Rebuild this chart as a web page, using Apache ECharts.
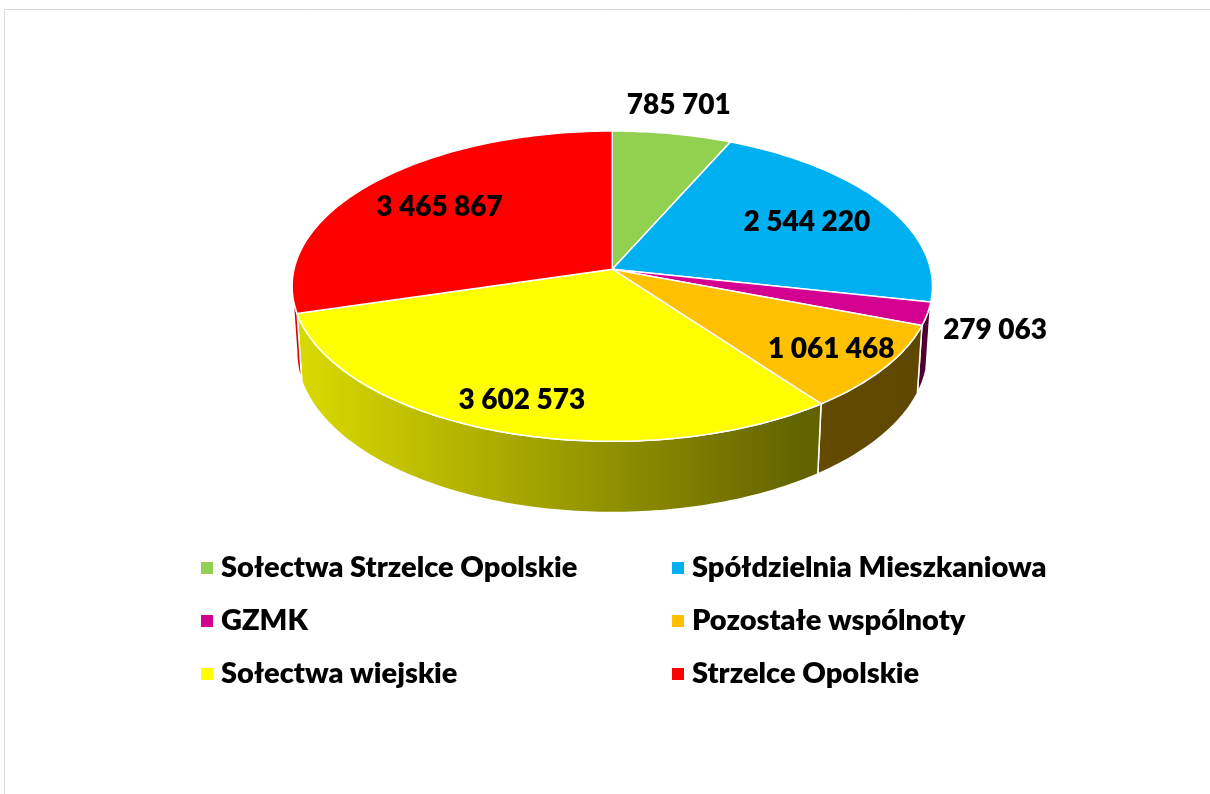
<!DOCTYPE html>
<html>
<head>
<meta charset="utf-8">
<script src="https://cdn.jsdelivr.net/npm/echarts@6/dist/echarts.min.js"></script>
<style>
  html, body { margin: 0; padding: 0; background: #fff; }
  #chart { width: 1210px; height: 794px; }
</style>
</head>
<body>
<div id="chart"></div>
<script>
// data
const categories = [
  'Sołectwa Strzelce Opolskie',
  'Spółdzielnia Mieszkaniowa',
  'GZMK',
  'Pozostałe wspólnoty',
  'Sołectwa wiejskie',
  'Strzelce Opolskie'
];
const values = [785701, 2544220, 279063, 1061468, 3602573, 3465867];

// look & layout
const colors = ['#92d050', '#00b0f0', '#d4008f', '#ffc000', '#ffff00', '#ff0000'];
const labelRadius = [1, 0.71, 1, 0.815, 0.82, 0.71]; // >= 1 : label outside
const FONT = 'Lato, "Noto Sans", sans-serif';
const WEIGHT = 800;

const total = values.reduce((a, b) => a + b, 0);
const startDeg = [];
values.reduce((acc, v, i) => { startDeg[i] = acc / total * 360; return acc + v; }, 0);

// fake 3D view
const TILT = 28.8 * Math.PI / 180;
const DIST = 8;        // camera distance, in radii
const THICK = 0.24;    // disc thickness, in radii

function fmt(v) {
  return String(v).replace(/\B(?=(\d{3})+(?!\d))/g, ' ');
}

function shade(hex, f) {
  const n = parseInt(hex.slice(1), 16);
  const r = Math.round(((n >> 16) & 255) * f);
  const g = Math.round(((n >> 8) & 255) * f);
  const b = Math.round((n & 255) * f);
  return 'rgb(' + r + ',' + g + ',' + b + ')';
}

function makeProject(api) {
  const W = api.getWidth(), H = api.getHeight();
  const cx = W * 0.506, cy = H * 0.339, R = W * 0.263;
  const proj = function (deg, r, y) {
    const t = deg * Math.PI / 180;
    const X = r * Math.sin(t), Z = -r * Math.cos(t);
    const v = Z * Math.sin(TILT) - y * Math.cos(TILT);
    const w = Z * Math.cos(TILT) + y * Math.sin(TILT);
    const s = DIST / (DIST - w);
    return [cx + R * X * s, cy + R * v * s];
  };
  proj.cx = cx; proj.cy = cy; proj.R = R;
  return proj;
}

function renderSlice(i, params, api) {
  const proj = makeProject(api);
  const a0 = startDeg[i];
  const a1 = a0 + values[i] / total * 360;
  const children = [];

  // outer wall, only the part turned to the viewer
  const edge = Math.asin(Math.cos(TILT) / DIST) * 180 / Math.PI;
  const w0 = Math.max(a0, 90 + edge), w1 = Math.min(a1, 270 - edge);
  if (w1 > w0) {
    const top = [], bot = [];
    const n = Math.max(2, Math.ceil(w1 - w0));
    for (let k = 0; k <= n; k++) {
      const d = w0 + (w1 - w0) * k / n;
      top.push(proj(d, 1, 0));
      bot.push(proj(d, 1, -THICK));
    }
    children.push({
      type: 'polygon',
      z2: 1,
      shape: { points: top.concat(bot.reverse()) },
      style: {
        fill: {
          type: 'linear', global: true,
          x: proj.cx - proj.R, y: 0, x2: proj.cx + proj.R, y2: 0,
          colorStops: [
            { offset: 0, color: shade(colors[i], 0.86) },
            { offset: 0.8, color: shade(colors[i], 0.39) },
            { offset: 1, color: shade(colors[i], 0.37) }
          ]
        },
        stroke: '#fff', lineWidth: 1.5
      }
    });
  }

  // top face
  const pts = [proj(0, 0, 0)];
  const n = Math.max(2, Math.ceil(a1 - a0));
  for (let k = 0; k <= n; k++) pts.push(proj(a0 + (a1 - a0) * k / n, 1, 0));
  children.push({
    type: 'polygon',
    z2: 10,
    shape: { points: pts },
    style: { fill: colors[i], stroke: '#fff', lineWidth: 1.5 }
  });

  // value label
  const mid = (a0 + a1) / 2;
  const lr = labelRadius[i];
  let pos, align = 'center', vAlign = 'middle';
  if (lr >= 1) {
    const rim = proj(mid, 1, 0);
    const dx = rim[0] - proj.cx, dy = rim[1] - proj.cy;
    const len = Math.sqrt(dx * dx + dy * dy);
    pos = [rim[0] + dx / len * 16, rim[1] + dy / len * 16];
    if (dx / len > 0.5) align = 'left';
    else if (dx / len < -0.5) align = 'right';
    vAlign = dy < 0 ? 'bottom' : 'top';
  } else {
    pos = proj(mid, lr, 0);
  }
  children.push({
    type: 'text',
    z2: 20,
    x: pos[0], y: pos[1],
    style: {
      text: fmt(values[i]),
      fill: '#000',
      fontSize: 28,
      fontWeight: WEIGHT,
      fontFamily: FONT,
      align: align,
      verticalAlign: vAlign
    }
  });

  return { type: 'group', children: children };
}

const legendText = {
  color: '#000', fontSize: 29, fontWeight: WEIGHT, fontFamily: FONT,
  lineHeight: 30, padding: [0, 0, 0, 3]
};

const option = {
  backgroundColor: '#fff',
  animation: false,
  graphic: [{
    type: 'rect',
    shape: { x: 4.5, y: 9.5, width: 1220, height: 820 },
    style: { fill: 'none', stroke: '#d9d9d9', lineWidth: 1 },
    silent: true
  }],
  legend: [
    {
      data: [categories[0], categories[2], categories[4]],
      orient: 'vertical', left: 196, top: 548,
      icon: 'rect', itemWidth: 12, itemHeight: 12, itemGap: 23,
      textStyle: legendText
    },
    {
      data: [categories[1], categories[3], categories[5]],
      orient: 'vertical', left: 667, top: 548,
      icon: 'rect', itemWidth: 12, itemHeight: 12, itemGap: 23,
      textStyle: legendText
    }
  ],
  series: categories.map((name, i) => ({
    type: 'custom',
    name: name,
    coordinateSystem: 'none',
    data: [values[i]],
    itemStyle: { color: colors[i] },
    renderItem: (params, api) => renderSlice(i, params, api)
  }))
};

const chart = echarts.init(document.getElementById('chart'));
chart.setOption(option);
</script>
</body>
</html>
